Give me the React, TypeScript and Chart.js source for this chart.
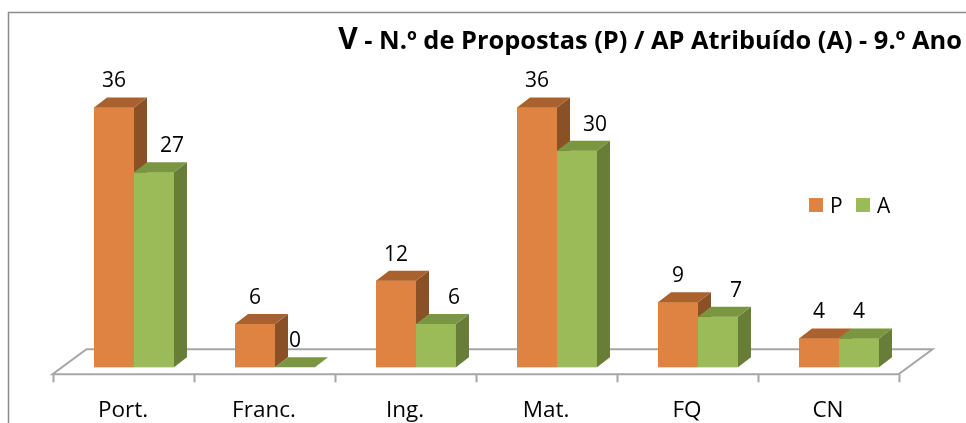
import React, { useEffect, useRef } from "react";
import { Chart, registerables } from "chart.js";

Chart.register(...registerables);

// ---- data ----
const categories = ["Port.", "Franc.", "Ing.", "Mat.", "FQ", "CN"];
const seriesP = [36, 6, 12, 36, 9, 4];
const seriesA = [27, 0, 6, 30, 7, 4];
const seriesNames = ["P", "A"];
const titleLead = "V";
const titleRest = " - N.º de Propostas (P) / AP Atribuído (A) - 9.º Ano";
const yMin = 0;
const yMax = 40;

// ---- styles ----
const FONT = '"Open Sans", "Noto Sans", sans-serif';
const faces = [
  { front: "#DE8342", top: "#A9622D", side: "#8A5126" },
  { front: "#9BBB59", top: "#7A9640", side: "#687E38" },
];
const DX = 13;
const DY = 10;

const excel3d = {
  id: "excel3d",
  beforeDraw(chart: any) {
    const ctx = chart.ctx;
    ctx.save();
    ctx.fillStyle = "#ffffff";
    ctx.fillRect(0, 0, chart.width, chart.height);
    ctx.strokeStyle = "#8c8c8c";
    ctx.lineWidth = 1.5;
    ctx.strokeRect(8.5, 12.5, chart.width + 40, chart.height + 40);
    ctx.restore();
  },
  beforeDatasetsDraw(chart: any) {
    const ctx = chart.ctx;
    const ca = chart.chartArea;
    const yS = chart.scales.y;
    const xS = chart.scales.x;
    const base = yS.getPixelForValue(0);
    const frontY = base + 7;
    const backY = frontY - 25;
    const shift = -11;
    const fl = ca.left + shift;
    const fr = ca.right + shift;
    const bdx = 34;
    ctx.save();
    ctx.strokeStyle = "#a6a6a6";
    ctx.lineWidth = 2;
    ctx.fillStyle = "#ffffff";
    ctx.beginPath();
    ctx.moveTo(fl, frontY);
    ctx.lineTo(fr, frontY);
    ctx.lineTo(fr + bdx, backY);
    ctx.lineTo(fl + bdx, backY);
    ctx.closePath();
    ctx.fill();
    ctx.stroke();
    // ticks on the front edge
    const n = categories.length;
    const step = (ca.right - ca.left) / n;
    ctx.beginPath();
    for (let k = 0; k <= n; k++) {
      const tx = Math.round(ca.left + step * k + shift) + 0.5;
      ctx.moveTo(tx, frontY);
      ctx.lineTo(tx, frontY + 8);
    }
    ctx.stroke();
    // category labels
    ctx.fillStyle = "#000000";
    ctx.font = `22.5px ${FONT}`;
    ctx.textAlign = "center";
    ctx.textBaseline = "alphabetic";
    categories.forEach((c, i) => {
      const cx = xS.getPixelForValue(i) + shift;
      ctx.fillText(c, cx, 417);
    });
    ctx.restore();
  },
  afterDatasetsDraw(chart: any) {
    const ctx = chart.ctx;
    const metas = [chart.getDatasetMeta(0), chart.getDatasetMeta(1)];
    ctx.save();
    for (let i = 0; i < categories.length; i++) {
      metas.forEach((meta: any, d: number) => {
        const el = meta.data[i];
        const p = el.getProps(["x", "y", "base", "width"], true);
        const x0 = p.x - p.width / 2;
        const x1 = p.x + p.width / 2;
        const top = Math.min(p.y, p.base);
        const bot = p.base;
        const f = faces[d];
        if (bot - top > 0.5) {
          ctx.fillStyle = f.front;
          ctx.fillRect(x0, top, x1 - x0, bot - top);
          ctx.fillStyle = f.side;
          ctx.beginPath();
          ctx.moveTo(x1, top);
          ctx.lineTo(x1 + DX, top - DY);
          ctx.lineTo(x1 + DX, bot - DY);
          ctx.lineTo(x1, bot);
          ctx.closePath();
          ctx.fill();
        }
        ctx.fillStyle = f.top;
        ctx.beginPath();
        ctx.moveTo(x0, top);
        ctx.lineTo(x1, top);
        ctx.lineTo(x1 + DX, top - DY);
        ctx.lineTo(x0 + DX, top - DY);
        ctx.closePath();
        ctx.fill();
      });
    }
    // value labels
    ctx.fillStyle = "#000000";
    ctx.font = `21px ${FONT}`;
    ctx.textAlign = "center";
    ctx.textBaseline = "alphabetic";
    for (let i = 0; i < categories.length; i++) {
      const vals = [seriesP[i], seriesA[i]];
      metas.forEach((meta: any, d: number) => {
        const el = meta.data[i];
        const p = el.getProps(["x", "y"], true);
        let off = 0;
        if (d === 1 && vals[1] > 0 && vals[1] < vals[0]) off = 18;
        ctx.fillText(String(vals[d]), p.x + off, p.y - 20);
      });
    }
    // legend
    const lx = [809, 856];
    seriesNames.forEach((name, d) => {
      ctx.fillStyle = faces[d].front;
      ctx.fillRect(lx[d], 198, 14, 14);
      ctx.fillStyle = "#000000";
      ctx.font = `21px ${FONT}`;
      ctx.textAlign = "left";
      ctx.fillText(name, lx[d] + 21, 213);
    });
    // title
    ctx.font = `bold 25.4px ${FONT}`;
    ctx.textAlign = "left";
    const wRest = ctx.measureText(titleRest).width;
    const restX = 962 - wRest;
    ctx.fillText(titleRest, restX, 49);
    ctx.font = `bold 30px ${FONT}`;
    const wLead = ctx.measureText(titleLead).width;
    ctx.fillText(titleLead, restX - wLead, 49);
    ctx.restore();
  },
};

export default function App() {
  const ref = useRef<HTMLCanvasElement | null>(null);
  useEffect(() => {
    if (!ref.current) return;
    const chart = new Chart(ref.current, {
      type: "bar",
      data: {
        labels: categories,
        datasets: [
          { label: seriesNames[0], data: seriesP, backgroundColor: faces[0].front, borderWidth: 0 },
          { label: seriesNames[1], data: seriesA, backgroundColor: faces[1].front, borderWidth: 0 },
        ],
      },
      options: {
        responsive: false,
        animation: false,
        devicePixelRatio: 1,
        datasets: { bar: { categoryPercentage: 0.567, barPercentage: 1.0 } },
        layout: { padding: { left: 63.5, right: 56.5, top: 78.5, bottom: 55.7 } },
        plugins: { legend: { display: false }, title: { display: false }, tooltip: { enabled: false } },
        scales: {
          x: { type: "category", display: false, offset: true },
          y: { display: false, min: yMin, max: yMax },
        },
      },
      plugins: [excel3d],
    });
    return () => chart.destroy();
  }, []);
  return (
    <div style={{ position: "absolute", left: 0, top: 0, width: 966, height: 423 }}>
      <canvas ref={ref} width={966} height={423} style={{ display: "block" }} />
    </div>
  );
}
